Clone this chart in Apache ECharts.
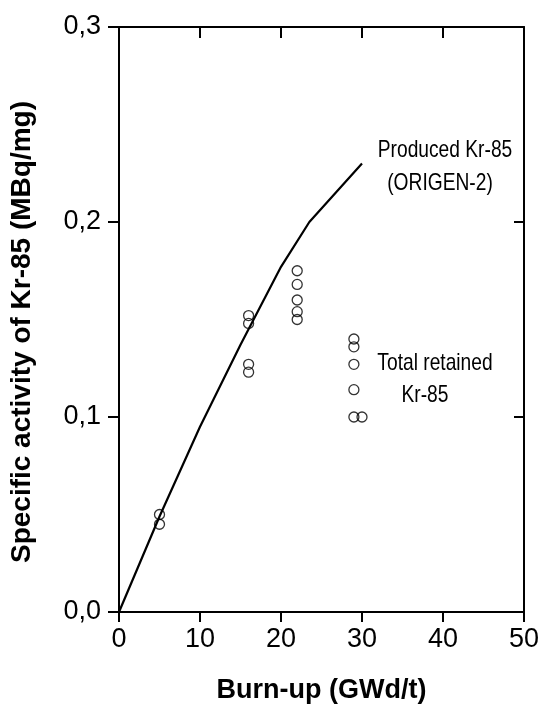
<!DOCTYPE html>
<html>
<head>
<meta charset="utf-8">
<script src="https://cdn.jsdelivr.net/npm/echarts@6/dist/echarts.min.js"></script>
<style>
  html, body { margin: 0; padding: 0; background: #fff; }
  #chart { width: 543px; height: 711px; }
</style>
</head>
<body>
<div id="chart"></div>
<script>
// Produced Kr-85 computed with ORIGEN-2 (burn-up GWd/t, MBq/mg)
const producedBurnup = [0, 5, 10, 15, 20, 23.5, 30];
const producedActivity = [0, 0.049, 0.095, 0.137, 0.177, 0.200, 0.230];

// Measured total retained Kr-85
const retainedBurnup = [5, 5, 16, 16, 16, 16, 22, 22, 22, 22, 22, 29, 29, 29, 29, 29, 30];
const retainedActivity = [0.050, 0.045, 0.152, 0.148, 0.127, 0.123,
  0.175, 0.168, 0.160, 0.154, 0.150,
  0.140, 0.136, 0.127, 0.114, 0.100, 0.100];

const xTicks = [0, 10, 20, 30, 40, 50];
const yTicks = [0, 0.1, 0.2, 0.3];

const font = "'Liberation Sans', Arial, sans-serif";

const chart = echarts.init(document.getElementById('chart'));

const axisLine = { show: true, onZero: false, lineStyle: { color: '#000', width: 2 } };

// condensed annotation text (narrowed sans)
function note(text, x, y) {
  return {
    type: 'text', x: x, y: y, scaleX: 0.8,
    style: { text: text, fontFamily: font, fontSize: 24, fill: '#000', textAlign: 'center', textVerticalAlign: 'middle' }
  };
}

chart.setOption({
  animation: false,
  backgroundColor: '#fff',
  grid: { left: 119, right: 19, top: 27, bottom: 99, containLabel: false },
  xAxis: [
    {
      type: 'value', position: 'bottom',
      min: xTicks[0], max: xTicks[xTicks.length - 1], interval: 10,
      axisLine: axisLine,
      axisTick: { show: true, inside: false, length: 10, lineStyle: { color: '#000', width: 2 } },
      axisLabel: { color: '#000', fontFamily: font, fontSize: 27, margin: 14 },
      splitLine: { show: false },
      name: 'Burn-up (GWd/t)', nameLocation: 'middle', nameGap: 65,
      nameTextStyle: { color: '#000', fontFamily: font, fontSize: 27, fontWeight: 'bold' }
    },
    {
      type: 'value', position: 'top',
      min: xTicks[0], max: xTicks[xTicks.length - 1], interval: 10,
      axisLine: axisLine,
      axisTick: { show: true, inside: true, length: 11, lineStyle: { color: '#000', width: 2 } },
      axisLabel: { show: false },
      splitLine: { show: false }
    }
  ],
  yAxis: [
    {
      type: 'value', position: 'left',
      min: yTicks[0], max: yTicks[yTicks.length - 1], interval: 0.1,
      axisLine: axisLine,
      axisTick: { show: true, inside: false, length: 11, lineStyle: { color: '#000', width: 2 } },
      axisLabel: {
        color: '#000', fontFamily: font, fontSize: 27, margin: 18,
        formatter: v => v.toFixed(1).replace('.', ',')
      },
      splitLine: { show: false }
    },
    {
      type: 'value', position: 'right',
      min: yTicks[0], max: yTicks[yTicks.length - 1], interval: 0.1,
      axisLine: axisLine,
      axisTick: { show: true, inside: true, length: 10, lineStyle: { color: '#000', width: 2 } },
      axisLabel: { show: false },
      splitLine: { show: false }
    }
  ],
  series: [
    {
      type: 'line',
      data: producedBurnup.map((x, i) => [x, producedActivity[i]]),
      showSymbol: false,
      lineStyle: { color: '#000', width: 2.2 },
      z: 3
    },
    {
      type: 'scatter',
      data: retainedBurnup.map((x, i) => [x, retainedActivity[i]]),
      symbol: 'circle', symbolSize: 10,
      itemStyle: { color: 'rgba(255,255,255,0)', borderColor: '#000', borderWidth: 1.3 },
      z: 4
    }
  ],
  graphic: [
    {
      type: 'text', x: 22, y: 332, rotation: Math.PI / 2,
      style: {
        text: 'Specific activity of Kr-85 (MBq/mg)', fontFamily: font, fontSize: 28, fontWeight: 'bold',
        fill: '#000', textAlign: 'center', textVerticalAlign: 'middle'
      }
    },
    note('Produced Kr-85', 445, 150),
    note('(ORIGEN-2)', 440, 183),
    note('Total retained', 435, 363),
    note('Kr-85', 425, 395)
  ]
});
</script>
</body>
</html>
